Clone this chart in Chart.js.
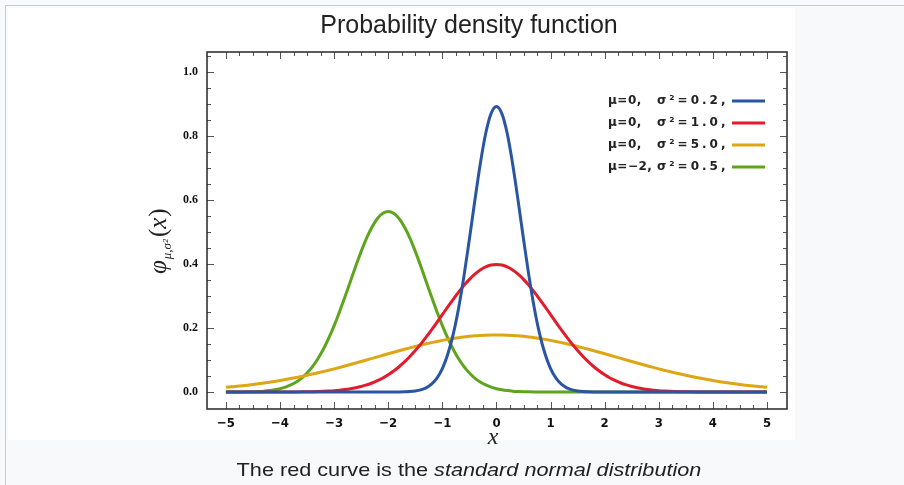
<!DOCTYPE html>
<html>
<head>
<meta charset="utf-8">
<script src="https://cdn.jsdelivr.net/npm/chart.js@4"></script>
<style>
  html, body { margin: 0; padding: 0; width: 904px; height: 485px; overflow: hidden; background: #f8f9fa; }
  #frame { position: absolute; left: 5px; top: 5px; width: 899px; height: 480px; border-top: 1px solid #c8ccd1; border-left: 1px solid #c8ccd1; }
  #white { position: absolute; left: 8px; top: 8px; width: 787px; height: 432px; background: #ffffff; }
  #wrap { position: absolute; left: 0; top: 0; width: 904px; height: 485px; }
  #caption { position: absolute; left: 0; width: 938px; top: 459px; text-align: center; font: 19px 'Liberation Sans', Arial, sans-serif; color: #202122; transform: scaleX(1.14); transform-origin: 469px 0; }
</style>
</head>
<body>
<div id="frame"></div>
<div id="white"></div>
<div id="wrap"><canvas id="c" width="904" height="485"></canvas></div>
<div id="caption">The red curve is the <i>standard normal distribution</i></div>
<script>
// ---- data ----
const xs = [-5.0,-4.9,-4.8,-4.7,-4.6,-4.5,-4.4,-4.3,-4.2,-4.1,-4.0,-3.9,-3.8,-3.7,-3.6,-3.5,-3.4,-3.3,-3.2,-3.1,
  -3.0,-2.9,-2.8,-2.7,-2.6,-2.5,-2.4,-2.3,-2.2,-2.1,-2.0,-1.9,-1.8,-1.7,-1.6,-1.5,-1.4,-1.3,-1.2,-1.1,
  -1.0,-0.9,-0.8,-0.7,-0.6,-0.5,-0.4,-0.3,-0.2,-0.1,0.0,0.1,0.2,0.3,0.4,0.5,0.6,0.7,0.8,0.9,
  1.0,1.1,1.2,1.3,1.4,1.5,1.6,1.7,1.8,1.9,2.0,2.1,2.2,2.3,2.4,2.5,2.6,2.7,2.8,2.9,
  3.0,3.1,3.2,3.3,3.4,3.5,3.6,3.7,3.8,3.9,4.0,4.1,4.2,4.3,4.4,4.5,4.6,4.7,4.8,4.9,5.0];

const seriesLabels = ['μ=0,  σ²=0.2,', 'μ=0,  σ²=1.0,', 'μ=0,  σ²=5.0,', 'μ=−2,  σ²=0.5,'];

const blue = [0,0,0,0,0,0,0,0,0,0,0,0,0,0,0,0,0,0,0,0,0,0,0,0,0,0,0,0,0,0,0,
  0.0001,0.0003,0.0007,0.0015,0.0032,0.0066,0.0130,0.0244,0.0433,0.0732,0.118,0.180,0.262,0.363,0.478,0.598,0.712,0.807,0.870,
  0.892,
  0.870,0.807,0.712,0.598,0.478,0.363,0.262,0.180,0.118,0.0732,0.0433,0.0244,0.0130,0.0066,0.0032,0.0015,0.0007,0.0003,0.0001,
  0,0,0,0,0,0,0,0,0,0,0,0,0,0,0,0,0,0,0,0,0,0,0,0,0,0,0,0,0,0,0];

const red = [0,0,0,0,0,0,0,0,0,0,
  0.0001,0.0002,0.0003,0.0004,0.0006,0.0009,0.0012,0.0017,0.0024,0.0033,0.0044,0.0060,0.0079,0.0104,0.0136,0.0175,0.0224,0.0283,0.0355,0.0440,
  0.0540,0.0656,0.0790,0.0940,0.1109,0.1295,0.1497,0.1714,0.1942,0.2179,0.2420,0.2661,0.2897,0.3123,0.3332,0.3521,0.3683,0.3814,0.3910,0.3970,
  0.3989,
  0.3970,0.3910,0.3814,0.3683,0.3521,0.3332,0.3123,0.2897,0.2661,0.2420,0.2179,0.1942,0.1714,0.1497,0.1295,0.1109,0.0940,0.0790,0.0656,0.0540,
  0.0440,0.0355,0.0283,0.0224,0.0175,0.0136,0.0104,0.0079,0.0060,0.0044,0.0033,0.0024,0.0017,0.0012,0.0009,0.0006,0.0004,0.0003,0.0002,0.0001,
  0,0,0,0,0,0,0,0,0,0];

const yellow = [0.0146,0.0162,0.0178,0.0196,0.0215,0.0235,0.0257,0.0281,0.0306,0.0332,
  0.0360,0.0390,0.0421,0.0454,0.0488,0.0524,0.0561,0.0600,0.0641,0.0682,
  0.0725,0.0769,0.0815,0.0861,0.0907,0.0955,0.1003,0.1051,0.1099,0.1148,
  0.1196,0.1243,0.1290,0.1336,0.1381,0.1425,0.1466,0.1507,0.1545,0.1581,
  0.1614,0.1645,0.1673,0.1699,0.1721,0.1740,0.1756,0.1768,0.1777,0.1782,
  0.1784,
  0.1782,0.1777,0.1768,0.1756,0.1740,0.1721,0.1699,0.1673,0.1645,0.1614,
  0.1581,0.1545,0.1507,0.1466,0.1425,0.1381,0.1336,0.1290,0.1243,0.1196,
  0.1148,0.1099,0.1051,0.1003,0.0955,0.0907,0.0861,0.0815,0.0769,0.0725,
  0.0682,0.0641,0.0600,0.0561,0.0524,0.0488,0.0454,0.0421,0.0390,0.0360,
  0.0332,0.0306,0.0281,0.0257,0.0235,0.0215,0.0196,0.0178,0.0162,0.0146];

const green = [0.0001,0.0001,0.0002,0.0004,0.0007,0.0011,0.0018,0.0028,0.0045,0.0069,
  0.0103,0.0153,0.0221,0.0314,0.0436,0.0595,0.0795,0.1041,0.1337,0.1682,
  0.2076,0.2510,0.2975,0.3456,0.3936,0.4394,0.4808,0.5156,0.5421,0.5586,
  0.5642,
  0.5586,0.5421,0.5156,0.4808,0.4394,0.3936,0.3456,0.2975,0.2510,0.2076,
  0.1682,0.1337,0.1041,0.0795,0.0595,0.0436,0.0314,0.0221,0.0153,0.0103,
  0.0069,0.0045,0.0028,0.0018,0.0011,0.0007,0.0004,0.0002,0.0001,0.0001,
  0,0,0,0,0,0,0,0,0,0,0,0,0,0,0,0,0,0,0,0,0,0,0,0,0,0,0,0,0,0,0,0,0,0,0,0,0,0,0,0];

const xTicks = [-5,-4,-3,-2,-1,0,1,2,3,4,5];
const yTicks = [0.0,0.2,0.4,0.6,0.8,1.0];
const yTickLabels = ['0.0','0.2','0.4','0.6','0.8','1.0'];
const colors = ['#2a55a3', '#e31b2c', '#dea514', '#5fa41f'];

// ---- chart ----
const pts = ys => xs.map((x, i) => ({x: x, y: ys[i]}));
const seriesValues = [blue, red, yellow, green];

const decor = {
  id: 'decor',
  beforeDatasetsDraw(chart) {
    const {ctx, chartArea: a, scales: {x, y}} = chart;
    ctx.save();
    ctx.strokeStyle = '#555';
    ctx.lineWidth = 1;
    for (let k = -20; k <= 20; k++) {
      const v = k * 0.25;
      const px = Math.round(x.getPixelForValue(v)) + 0.5;
      const len = (k % 4 === 0) ? 7 : 4;
      ctx.beginPath();
      ctx.moveTo(px, a.bottom); ctx.lineTo(px, a.bottom - len);
      ctx.moveTo(px, a.top); ctx.lineTo(px, a.top + len);
      ctx.stroke();
    }
    for (let k = 0; k <= 21; k++) {
      const v = k * 0.05;
      const py = Math.round(y.getPixelForValue(v)) + 0.5;
      const len = (k % 4 === 0) ? 7 : 4;
      ctx.beginPath();
      ctx.moveTo(a.left, py); ctx.lineTo(a.left + len, py);
      ctx.moveTo(a.right, py); ctx.lineTo(a.right - len, py);
      ctx.stroke();
    }
    ctx.restore();
  },
  afterDraw(chart) {
    const {ctx, chartArea: a} = chart;
    ctx.save();
    ctx.strokeStyle = '#333';
    ctx.lineWidth = 1.6;
    ctx.strokeRect(a.left, a.top, a.right - a.left, a.bottom - a.top);

    // legend
    ctx.fillStyle = '#222';
    ctx.font = 'bold 12px "DejaVu Sans", sans-serif';
    ctx.textBaseline = 'middle';
    ctx.textAlign = 'left';
    const hasLS = ('letterSpacing' in ctx);
    chart.data.datasets.forEach((ds, i) => {
      const ry = 101 + 22 * i;
      const parts = ds.label.split('  ');
      if (hasLS) ctx.letterSpacing = '0.5px';
      ctx.fillText(parts[0], 608, ry);
      if (hasLS) ctx.letterSpacing = '3px';
      ctx.fillText(parts[1], 657, ry);
      ctx.strokeStyle = ds.borderColor;
      ctx.lineWidth = 3;
      ctx.beginPath();
      ctx.moveTo(732, ry); ctx.lineTo(765, ry);
      ctx.stroke();
    });
    if (hasLS) ctx.letterSpacing = '0px';

    // x axis title
    ctx.fillStyle = '#222';
    ctx.textAlign = 'center';
    ctx.textBaseline = 'alphabetic';
    ctx.font = 'italic 24px "Liberation Serif", "DejaVu Serif", serif';
    ctx.fillText('x', 493, 444);

    // y axis title: φ_{μ,σ²}(x), rotated
    ctx.translate(166, 274);
    ctx.rotate(-Math.PI / 2);
    ctx.textAlign = 'left';
    ctx.textBaseline = 'alphabetic';
    let u = 0;
    ctx.font = 'italic 25px "Liberation Serif", "DejaVu Serif", serif';
    ctx.fillText('φ', u, 0); u += ctx.measureText('φ').width + 1;
    ctx.font = 'italic 13px "Liberation Serif", "DejaVu Serif", serif';
    ctx.fillText('μ,σ²', u, 5); u += ctx.measureText('μ,σ²').width + 2;
    ctx.font = '25px "Liberation Serif", "DejaVu Serif", serif';
    ctx.fillText('(', u, 0); u += ctx.measureText('(').width;
    ctx.font = 'italic 25px "Liberation Serif", "DejaVu Serif", serif';
    ctx.fillText('x', u, 0); u += ctx.measureText('x').width + 1;
    ctx.font = '25px "Liberation Serif", "DejaVu Serif", serif';
    ctx.fillText(')', u, 0);
    ctx.restore();
  }
};

new Chart(document.getElementById('c'), {
  type: 'line',
  data: {
    datasets: seriesValues.map((vals, i) => ({
      label: seriesLabels[i],
      data: pts(vals),
      borderColor: colors[i],
      backgroundColor: colors[i],
      borderWidth: 3,
      pointRadius: 0,
      fill: false,
      cubicInterpolationMode: 'monotone'
    }))
  },
  options: {
    responsive: false,
    animation: false,
    events: [],
    layout: { padding: { left: 151, right: 117, top: 0, bottom: 0 } },
    plugins: {
      legend: { display: false },
      tooltip: { enabled: false },
      title: {
        display: true,
        text: 'Probability density function',
        color: '#222',
        font: { family: '"Liberation Sans", Arial, sans-serif', size: 25, weight: 'normal', lineHeight: 1.2 },
        padding: { top: 11, bottom: 11 },
        position: 'top',
        align: 'center',
        fullSize: true
      }
    },
    scales: {
      x: {
        type: 'linear',
        min: -5.35,
        max: 5.37,
        afterFit(s) { s.height = 76; },
        afterBuildTicks(s) { s.ticks = xTicks.map(v => ({value: v})); },
        grid: { display: false, drawTicks: false },
        border: { display: false },
        ticks: {
          padding: 7,
          color: '#111',
          maxRotation: 0,
          autoSkip: false,
          font: { family: '"Liberation Sans Narrow", "DejaVu Sans Condensed", "Liberation Sans", sans-serif', size: 13, weight: 'bold' },
          callback: v => (v < 0 ? '\u2212' + Math.abs(v) : String(v))
        }
      },
      y: {
        type: 'linear',
        min: -0.053,
        max: 1.0625,
        afterFit(s) { s.width = 56; },
        afterBuildTicks(s) { s.ticks = yTicks.map(v => ({value: v})); },
        grid: { display: false, drawTicks: false },
        border: { display: false },
        ticks: {
          padding: 9,
          color: '#111',
          autoSkip: false,
          font: { family: '"Liberation Serif", "DejaVu Serif", serif', size: 12, weight: 'bold' },
          callback: (v) => yTickLabels[yTicks.indexOf(v)] ?? ''
        }
      }
    }
  },
  plugins: [decor]
});
</script>
</body>
</html>
